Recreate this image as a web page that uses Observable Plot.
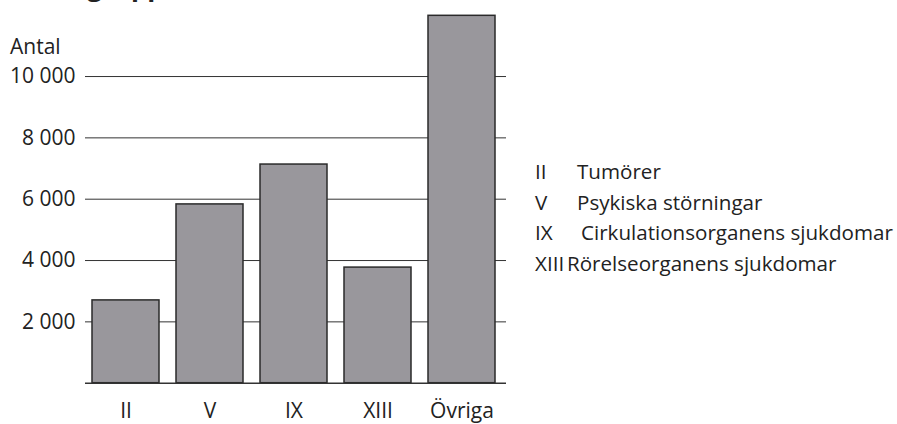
<!DOCTYPE html>
<html>
<head>
<meta charset="utf-8">
<script src="https://cdn.jsdelivr.net/npm/d3@7"></script>
<script src="https://cdn.jsdelivr.net/npm/@observablehq/plot@0.6"></script>
<style>
  html, body { margin: 0; padding: 0; background: #fff; }
  #wrap { position: relative; width: 897px; height: 424px; overflow: hidden; font-family: "Open Sans", sans-serif; color: #222; }
  #title { position: absolute; left: 2px; top: -32px; font-size: 26px; line-height: 36px; font-weight: bold; white-space: nowrap; }
  #ylab { position: absolute; left: 10px; top: 34px; font-size: 21px; line-height: 24px; }
  .lg { position: absolute; font-size: 20.6px; line-height: 24px; white-space: nowrap; }
  #chart { position: absolute; left: 0; top: 0; }
</style>
</head>
<body>
<div id="wrap">
  <div id="chart"></div>
  <div id="title">Huvudgrupper</div>
  <div id="ylab">Antal</div>
</div>
<script>
const categories = ["II", "V", "IX", "XIII", "Övriga"];
const values = [2700, 5830, 7130, 3770, 11980];
const yTicks = [2000, 4000, 6000, 8000, 10000];
const legendCodes = ["II", "V", "IX", "XIII"];
const legendNames = ["Tumörer", "Psykiska störningar", "Cirkulationsorganens sjukdomar", "Rörelseorganens sjukdomar"];

const data = categories.map((c, i) => ({category: c, value: values[i]}));
const fmt = d => d3.format(",")(d).replace(/,/g, " ");

const chart = Plot.plot({
  width: 897,
  height: 424,
  marginLeft: 85,
  marginRight: 391,
  marginTop: 14.7,
  marginBottom: 41.3,
  style: {fontFamily: "Open Sans, sans-serif", fontSize: "21px", color: "#222", background: "transparent", overflow: "visible"},
  x: {domain: categories, paddingInner: 0.207, paddingOuter: 0.095, align: 0.375},
  y: {domain: [0, 12000]},
  marks: [
    Plot.ruleY(yTicks, {stroke: "#333", strokeWidth: 1}),
    Plot.barY(data, {x: "category", y: "value", fill: "#99979c", stroke: "#2a2a2a", strokeWidth: 1.5}),
    Plot.ruleY([0], {stroke: "#333", strokeWidth: 1.5}),
    Plot.axisY({ticks: yTicks, tickSize: 0, tickPadding: 10, tickFormat: fmt, label: null}),
    Plot.axisX({tickSize: 0, tickPadding: 20, label: null})
  ]
});
document.getElementById("chart").appendChild(chart);

// legend (HTML, to the right of the plot)
const wrap = document.getElementById("wrap");
const rowCenters = [171, 202, 232, 263];
const nameLefts = [577, 577, 581, 567];
legendCodes.forEach((code, i) => {
  const c = document.createElement("div");
  c.className = "lg";
  c.style.left = "535px";
  c.style.top = (rowCenters[i] - 12) + "px";
  c.textContent = code;
  wrap.appendChild(c);
  const n = document.createElement("div");
  n.className = "lg";
  n.style.left = nameLefts[i] + "px";
  n.style.top = (rowCenters[i] - 12) + "px";
  n.textContent = legendNames[i];
  wrap.appendChild(n);
});
</script>
</body>
</html>
